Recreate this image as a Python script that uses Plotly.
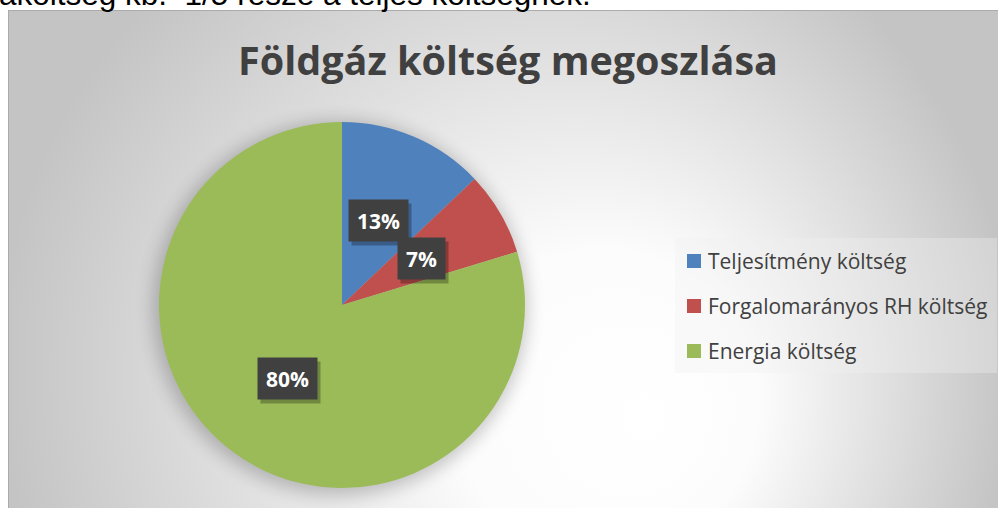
import base64
import math
import plotly.graph_objects as go

# ---- data ----
categories = ["Teljesítmény költség", "Forgalomarányos RH költség", "Energia költség"]
values = [12.9, 7.4, 79.7]
colors = ["#4F81BD", "#C0504D", "#9BBB59"]
title_text = "Földgáz költség megoszlása"
top_text = "akoltség kb.  1/5 része a teljes költségnek."

W, H = 998, 508
CX, CY, R = 342, 305, 183  # pie centre / radius in px


def px(x):
    return x / W


def py(y):
    return 1 - y / H


# ---- background (chart area with radial gradient + pie shadow) ----
FX0, FY0 = 8, 10
bw, bh = W - FX0 + 20, H - FY0 + 20
svg = f'''<svg xmlns="http://www.w3.org/2000/svg" width="{bw}" height="{bh}" viewBox="0 0 {bw} {bh}" preserveAspectRatio="none">
<defs>
<radialGradient id="g" gradientUnits="userSpaceOnUse" cx="{505-FX0}" cy="{365-FY0}" r="508" fx="{650-FX0}" fy="{420-FY0}">
<stop offset="0" stop-color="#ffffff"/>
<stop offset="0.3" stop-color="#fcfcfc"/>
<stop offset="1" stop-color="#c4c4c4"/>
</radialGradient>
<filter id="b" x="-30%" y="-30%" width="160%" height="160%"><feGaussianBlur stdDeviation="9"/></filter>
</defs>
<rect x="0" y="0" width="{bw}" height="{bh}" fill="url(#g)"/>
<circle cx="{CX-FX0-2}" cy="{CY-FY0+3}" r="{R+4}" fill="#000" opacity="0.22" filter="url(#b)"/>
<rect x="0.5" y="0.5" width="{bw}" height="{bh}" fill="none" stroke="#ababab" stroke-width="1"/>
</svg>'''
bg_src = "data:image/svg+xml;base64," + base64.b64encode(svg.encode("utf-8")).decode()

fig = go.Figure()
fig.add_trace(go.Pie(
    labels=categories,
    values=values,
    marker=dict(colors=colors, line=dict(width=0)),
    sort=False,
    direction="clockwise",
    rotation=0,
    textinfo="none",
    hoverinfo="label+percent",
    showlegend=False,
    domain=dict(x=[px(CX - R), px(CX + R)], y=[py(CY + R), py(CY - R)]),
))

annotations = []
# top cut-off text line of the document
annotations.append(dict(
    text=top_text, x=px(-3), y=py(-6), xref="paper", yref="paper",
    xanchor="left", yanchor="middle", showarrow=False,
    font=dict(family="Liberation Sans, Arial", size=31.5, color="#000000"),
))

# data labels at half radius along each slice's mid angle
total = sum(values)
cum = 0.0
for v in values:
    ang = 2 * math.pi * (cum + v / 2) / total
    cum += v
    lx = CX + 0.5 * R * math.sin(ang)
    ly = CY - 0.5 * R * math.cos(ang)
    txt = f"{round(100 * v / total)}%"
    # shadow
    annotations.append(dict(
        text=f"<b>{txt}</b>", x=px(lx + 3), y=py(ly + 4), xref="paper", yref="paper",
        xanchor="center", yanchor="middle",
        showarrow=False, bgcolor="rgba(0,0,0,0.28)", borderpad=8, height=25,
        font=dict(family="Open Sans", size=21, color="rgba(0,0,0,0)"),
    ))
    annotations.append(dict(
        text=f"<b>{txt}</b>", x=px(lx), y=py(ly), xref="paper", yref="paper",
        xanchor="center", yanchor="middle",
        showarrow=False, bgcolor="#404040", borderpad=8, height=25,
        font=dict(family="Open Sans", size=21, color="#ffffff"),
    ))

# legend (manual)
shapes = [dict(type="rect", xref="paper", yref="paper",
               x0=px(675), x1=px(997), y0=py(373), y1=py(238),
               fillcolor="rgba(240,240,240,0.35)", line=dict(width=0), layer="below")]
LEG_X, LEG_Y0, LEG_DY, SQ = 687, 261, 45, 14
for i, (c, col) in enumerate(zip(categories, colors)):
    yc = LEG_Y0 + i * LEG_DY
    shapes.append(dict(type="rect", xref="paper", yref="paper",
                       x0=px(LEG_X), x1=px(LEG_X + SQ), y0=py(yc + SQ / 2), y1=py(yc - SQ / 2),
                       fillcolor=col, line=dict(width=0)))
    annotations.append(dict(
        text=c, x=px(LEG_X + SQ + 5), y=py(yc), xref="paper", yref="paper",
        xanchor="left", yanchor="middle", showarrow=False,
        font=dict(family="Open Sans", size=21, color="#404040"),
    ))

fig.update_layout(
    width=W, height=H,
    margin=dict(l=0, r=0, t=0, b=0),
    paper_bgcolor="#ffffff",
    plot_bgcolor="rgba(0,0,0,0)",
    title=dict(text=f"<b>{title_text}</b>", x=px(508), xanchor="center",
               y=py(61), yanchor="middle",
               font=dict(family="Open Sans", size=39.5, color="#404040")),
    images=[dict(source=bg_src, xref="paper", yref="paper",
                 x=px(FX0), y=py(FY0), sizex=bw / W, sizey=bh / H,
                 xanchor="left", yanchor="top", sizing="stretch", layer="below")],
    shapes=shapes,
    annotations=annotations,
)

fig.write_html("out.html", config={"displayModeBar": False},
               post_script="document.body.style.margin='0px';document.body.style.overflow='hidden';")
